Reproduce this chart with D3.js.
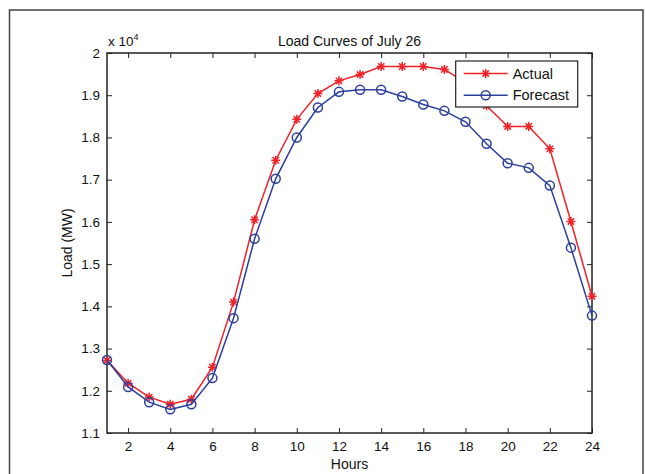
<!DOCTYPE html>
<html>
<head>
<meta charset="utf-8">
<script src="https://cdnjs.cloudflare.com/ajax/libs/d3/7.8.5/d3.min.js"></script>
<style>
  body { margin: 0; background: #fff; }
  text { font-family: "Liberation Sans", Arial, sans-serif; fill: #111; }
</style>
</head>
<body>
<div class="chart"></div>
<script>
// hours of the day
var hours = [1, 2, 3, 4, 5, 6, 7, 8, 9, 10, 11, 12, 13, 14, 15, 16, 17, 18, 19, 20, 21, 22, 23, 24];
// load in MW
var actual = [12720, 12180, 11850, 11680, 11800, 12560, 14100, 16050, 17460, 18430, 19040, 19340,
              19490, 19680, 19680, 19680, 19610, 19300, 18750, 18260, 18260, 17730, 16010, 14240];
var forecast = [12730, 12090, 11730, 11560, 11680, 12300, 13720, 15600, 17020, 18000, 18710, 19080,
                19130, 19130, 18970, 18780, 18630, 18370, 17850, 17390, 17280, 16860, 15390, 13780];
var xTicks = [2, 4, 6, 8, 10, 12, 14, 16, 18, 20, 22, 24];
var yTicks = [11000, 12000, 13000, 14000, 15000, 16000, 17000, 18000, 19000, 20000];
var seriesNames = ["Actual", "Forecast"];

var svgWidth = 646, svgHeight = 474;
var margin = { top: 53, right: 54, bottom: 41, left: 107 };
var width = svgWidth - margin.left - margin.right;
var height = svgHeight - margin.top - margin.bottom;

var red = "#ee2229", blue = "#2b3f9c";

var svg = d3.select(".chart").append("svg")
    .attr("width", svgWidth)
    .attr("height", svgHeight);

// outer frame of the figure
svg.append("rect")
    .attr("x", 9.5).attr("y", 10)
    .attr("width", 633.5).attr("height", 480)
    .attr("fill", "none")
    .attr("stroke", "#444")
    .attr("stroke-width", 1.5);

var chartGroup = svg.append("g")
    .attr("transform", `translate(${margin.left}, ${margin.top})`);

var xScale = d3.scaleLinear().domain([1, 24]).range([0, width]);
var yScale = d3.scaleLinear().domain([11000, 20000]).range([height, 0]);

// axes, ticks pointing inward on all four sides
var bottomAxis = d3.axisBottom(xScale).tickValues(xTicks).tickSizeInner(-5).tickSizeOuter(0).tickPadding(8);
var topAxis = d3.axisTop(xScale).tickValues(xTicks).tickSizeInner(-5).tickSizeOuter(0).tickFormat("");
var leftAxis = d3.axisLeft(yScale).tickValues(yTicks).tickSizeInner(-5).tickSizeOuter(0).tickPadding(7)
    .tickFormat(d => d3.format("")(d / 10000));
var rightAxis = d3.axisRight(yScale).tickValues(yTicks).tickSizeInner(-5).tickSizeOuter(0).tickFormat("");

function styleAxis(g) {
    g.select(".domain").remove();
    g.selectAll("line").attr("stroke", "#222").attr("stroke-width", 1);
    g.selectAll("text").attr("font-size", "13.5px").attr("fill", "#111")
        .attr("font-family", "Liberation Sans, Arial, sans-serif");
}

chartGroup.append("g").attr("transform", `translate(0, ${height})`).call(bottomAxis).call(styleAxis);
chartGroup.append("g").call(topAxis).call(styleAxis);
chartGroup.append("g").call(leftAxis).call(styleAxis);
chartGroup.append("g").attr("transform", `translate(${width}, 0)`).call(rightAxis).call(styleAxis);

chartGroup.append("rect")
    .attr("width", width).attr("height", height)
    .attr("fill", "none").attr("stroke", "#222").attr("stroke-width", 1.5);

var line = d3.line()
    .x((d, i) => xScale(hours[i]))
    .y(d => yScale(d));

function starPath(s) {
    var a = s * 0.7071;
    return `M${-s},0L${s},0M0,${-s}L0,${s}M${-a},${-a}L${a},${a}M${-a},${a}L${a},${-a}`;
}

// actual curve
chartGroup.append("path")
    .datum(actual)
    .attr("d", line)
    .attr("fill", "none").attr("stroke", red).attr("stroke-width", 1.5);

chartGroup.selectAll(".star")
    .data(actual)
    .enter()
    .append("path")
    .attr("class", "star")
    .attr("transform", (d, i) => `translate(${xScale(hours[i])}, ${yScale(d)})`)
    .attr("d", starPath(4.5))
    .attr("fill", "none").attr("stroke", red).attr("stroke-width", 1.5);

// forecast curve
chartGroup.append("path")
    .datum(forecast)
    .attr("d", line)
    .attr("fill", "none").attr("stroke", blue).attr("stroke-width", 1.5);

chartGroup.selectAll(".circ")
    .data(forecast)
    .enter()
    .append("circle")
    .attr("class", "circ")
    .attr("cx", (d, i) => xScale(hours[i]))
    .attr("cy", d => yScale(d))
    .attr("r", 4.5)
    .attr("fill", "none").attr("stroke", blue).attr("stroke-width", 1.5);

// legend
var legend = chartGroup.append("g")
    .attr("transform", `translate(${xScale(18.01) - 10}, 8)`);

legend.append("rect")
    .attr("width", 122).attr("height", 46)
    .attr("fill", "#fff").attr("stroke", "#222").attr("stroke-width", 1.2);

seriesNames.forEach(function (name, i) {
    var y = 12.5 + i * 21.7;
    var col = i === 0 ? red : blue;
    legend.append("line")
        .attr("x1", 8).attr("x2", 52).attr("y1", y).attr("y2", y)
        .attr("stroke", col).attr("stroke-width", 1.5);
    if (i === 0) {
        legend.append("path")
            .attr("transform", `translate(30, ${y})`)
            .attr("d", starPath(4.5))
            .attr("fill", "none").attr("stroke", col).attr("stroke-width", 1.5);
    } else {
        legend.append("circle")
            .attr("cx", 30).attr("cy", y).attr("r", 4.5)
            .attr("fill", "none").attr("stroke", col).attr("stroke-width", 1.5);
    }
    legend.append("text")
        .attr("x", 57).attr("y", y).attr("dy", "0.36em")
        .attr("font-size", "14.5px")
        .text(name);
});

// title, exponent and axis labels
svg.append("text")
    .attr("x", margin.left + width / 2).attr("y", 46)
    .attr("text-anchor", "middle")
    .attr("font-size", "14px")
    .text("Load Curves of July 26");

var expo = svg.append("text")
    .attr("x", 108).attr("y", 46)
    .attr("font-size", "13.5px");
expo.append("tspan").text("x 10");
expo.append("tspan").attr("dy", "-6").attr("font-size", "9px").text("4");

svg.append("text")
    .attr("x", margin.left + width / 2).attr("y", 469)
    .attr("text-anchor", "middle")
    .attr("font-size", "14px")
    .text("Hours");

svg.append("text")
    .attr("transform", `translate(72, ${margin.top + height / 2}) rotate(-90)`)
    .attr("text-anchor", "middle")
    .attr("font-size", "14px")
    .text("Load (MW)");
</script>
</body>
</html>
